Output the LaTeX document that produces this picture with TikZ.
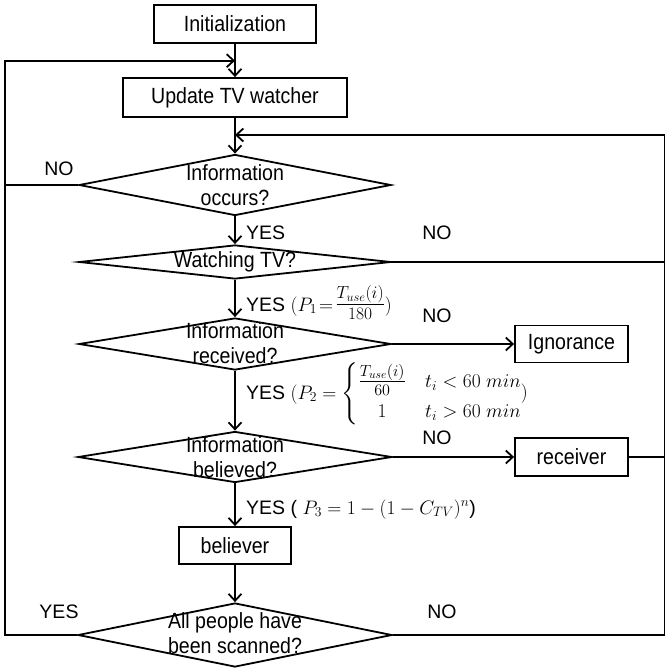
\documentclass[tikz,border=0pt]{standalone}
\usepackage{fix-cm}
\usepackage{amsmath}
\usepackage[no-math]{fontspec}
\setmainfont{Liberation Sans}
\newfontfamily\boxfont[FakeStretch=0.89]{Liberation Sans}
\usetikzlibrary{shapes.geometric,arrows.meta}

\begin{document}
\begin{tikzpicture}[
    x=1pt, y=-1pt,
    every node/.style={inner sep=0pt, font=\fontsize{19.5}{24}\selectfont},
    boxtext/.style={align=center, font=\boxfont\fontsize{22}{25}\selectfont},
    stepbox/.style={draw, line width=1.8pt, boxtext},
    decision/.style={draw, diamond, line width=1.8pt},
    flow/.style={-{Straight Barb[length=7pt,width=13pt]}, line width=1.8pt},
    link/.style={line width=1.8pt}
]
\useasboundingbox (0,0) rectangle (671,672);

% Process boxes
\node[stepbox, minimum width=162pt, minimum height=38pt] (init) at (235,24) {Initialization};
\node[stepbox, minimum width=224pt, minimum height=39pt] (update) at (235,97.5) {Update TV watcher};
\node[stepbox, minimum width=113pt, minimum height=37pt] (ignorance) at (571.5,344) {Ignorance};
\node[stepbox, minimum width=113pt, minimum height=38pt] (receiver) at (571.5,457) {receiver};
\node[stepbox, minimum width=112pt, minimum height=37pt] (believer) at (235,545.5) {believer};

% Decisions
\node[decision, minimum width=312pt, minimum height=61pt] (occurs) at (235,185) {};
\node[boxtext] (occurs-text) at (235,185.5) {Information\\occurs?};
\node[decision, minimum width=312pt, minimum height=34pt] (watching) at (235,262) {};
\node[boxtext] (watching-text) at (235,262) {Watching TV?};
\node[decision, minimum width=312pt, minimum height=52pt] (received) at (235,344) {};
\node[boxtext] (received-text) at (235,343.5) {Information\\received?};
\node[decision, minimum width=314pt, minimum height=51pt] (believed) at (235,457) {};
\node[boxtext] (believed-text) at (235,457) {Information\\believed?};
\node[decision, minimum width=314pt, minimum height=64pt] (scanned) at (235,635) {};
\node[boxtext] (scanned-text) at (235,633.5) {All people have\\been scanned?};

% Loop corners
\coordinate (lefttop) at (5,60.7);
\coordinate (leftbot) at (5,635);
\coordinate (topjoin) at (235,60.7);
\coordinate (righttop) at (664.5,135);
\coordinate (rightbot) at (664.5,635);
\coordinate (rightjoin) at (235,135);

% Main flow
\draw[flow] (init) -- (update);
\draw[flow] (update) -- (occurs.north);
\draw[flow] (occurs.south) -- (watching.north);
\draw[flow] (watching.south) -- (received.north);
\draw[flow] (received.south) -- (believed.north);
\draw[flow] (believed.south) -- (believer.north);
\draw[flow] (believer.south) -- (scanned.north);
\draw[flow] (received.east) -- (received.east -| ignorance.west);
\draw[flow] (believed.east) -- (believed.east -| receiver.west);

% Feedback lines
\draw[flow] (scanned.west) -- (leftbot) -- (lefttop) -- (topjoin);
\draw[link] (occurs.west) -- (occurs.west -| leftbot);
\draw[flow] (scanned.east) -- (rightbot) -- (righttop) -- (rightjoin);
\draw[link] (watching.east) -- (watching.east -| rightbot);
\draw[link] (receiver.east) -- (receiver.east -| rightbot);

% Branch labels
\node (no-occurs) at (59,169) {NO};
\node[anchor=west] (yes-occurs) at (246,233) {YES};
\node (no-watching) at (437,233) {NO};
\node[anchor=base west] (yes-watching) at (246,311) {YES $(P_1\!=\!\text{\fontsize{25}{30}\selectfont$\frac{T_{use}(i)}{180}$})$};
\node (no-received) at (437,316) {NO};
\node[anchor=base west] (yes-received) at (246,399) {YES $(P_2 = \left\{\renewcommand\arraystretch{0.85}\begin{array}{@{}c@{\quad}l@{}} \text{\fontsize{23}{26}\selectfont$\frac{T_{use}(i)}{60}$} & t_i<60\;min\rlap{\raisebox{-1.1ex}{$)$}}\\ 1 & t_i>60\;min \end{array}\right.$};
\node (no-believed) at (437,438) {NO};
\node[anchor=base west] (yes-believed) at (246,514) {YES ( $P_3 = 1-(1-C_{TV})^n$)};
\node (yes-scanned) at (59,612) {YES};
\node (no-scanned) at (442,612) {NO};

\end{tikzpicture}
\end{document}
